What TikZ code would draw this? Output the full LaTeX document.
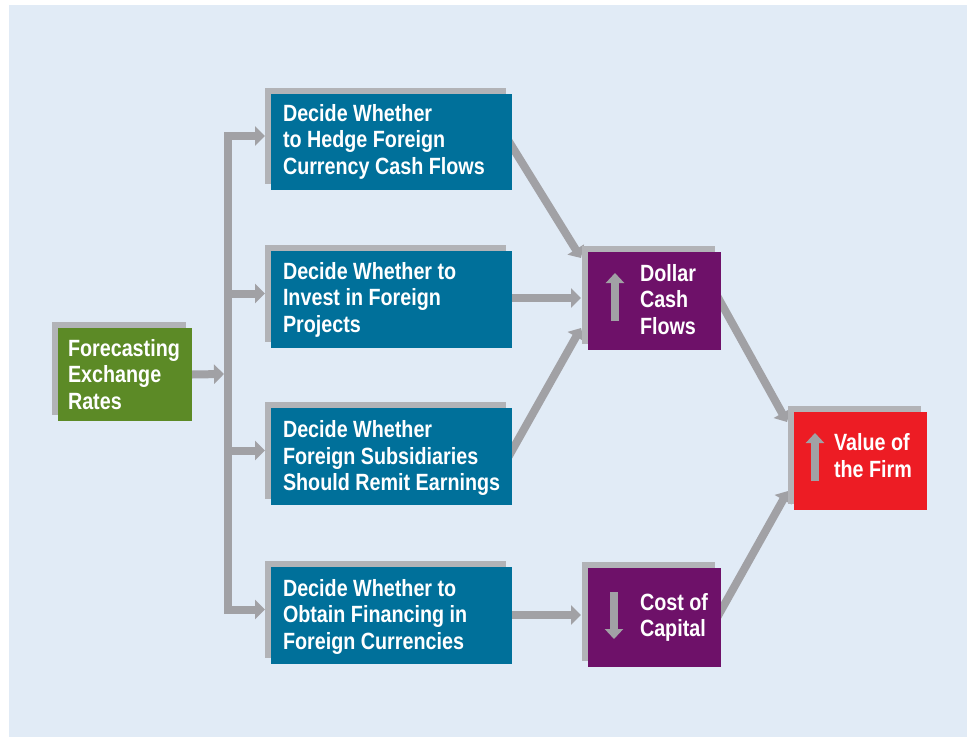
\documentclass[tikz,border=0pt]{standalone}
\usepackage{fontspec}
\setmainfont[FakeStretch=0.84]{Liberation Sans}
\usetikzlibrary{arrows.meta,shadows}
\definecolor{bgblue}{HTML}{E1EBF6}
\definecolor{boxblue}{HTML}{00709A}
\definecolor{boxgreen}{HTML}{5C8A26}
\definecolor{boxpurple}{HTML}{6E1169}
\definecolor{boxred}{HTML}{ED1C24}
\definecolor{argray}{HTML}{A1A1A5}
\definecolor{shgray}{HTML}{B2B3B7}
\pgfdeclarelayer{bglayer}
\pgfdeclarelayer{connlayer}
\pgfsetlayers{bglayer,connlayer,main}
\begin{document}
\begin{tikzpicture}[x=1pt,y=-1pt,
  box/.style={draw=none, inner sep=0pt, outer sep=0pt, anchor=north west,
    drop shadow={shadow xshift=-6pt, shadow yshift=6pt, fill=shgray, opacity=1}},
  conn/.style={draw=argray, line width=8pt, line join=miter,
    -{Triangle[length=10pt,width=19pt]}},
  icon/.style={draw=argray, line width=8pt, -{Triangle[length=10pt,width=18pt]}},
  lbl/.style={text=white, font=\bfseries\fontsize{23.5}{26.5}\selectfont,
    align=left, anchor=west, inner sep=0pt, outer sep=0pt}]
\useasboundingbox (0,0) rectangle (967,737);
\begin{pgfonlayer}{bglayer}
  \fill[white] (0,0) rectangle (967,737);
  \fill[bgblue] (9,5) rectangle (967,737);
\end{pgfonlayer}

% boxes
\node[box, fill=boxgreen, minimum width=134pt, minimum height=93pt] (g) at (58,328) {};
\node[box, fill=boxblue, minimum width=241pt, minimum height=96pt] (b1) at (271,94) {};
\node[box, fill=boxblue, minimum width=241pt, minimum height=97pt] (b2) at (271,251) {};
\node[box, fill=boxblue, minimum width=241pt, minimum height=97pt] (b3) at (271,408) {};
\node[box, fill=boxblue, minimum width=241pt, minimum height=97pt] (b4) at (271,567) {};
\node[box, fill=boxpurple, minimum width=133pt, minimum height=98pt] (d) at (588,252) {};
\node[box, fill=boxpurple, minimum width=133pt, minimum height=99pt] (c) at (588,568) {};
\node[box, fill=boxred, minimum width=133pt, minimum height=98pt] (v) at (794,412) {};

% labels
\node[lbl] (tg) at (68,374.5) {Forecasting\\Exchange\\Rates};
\node[lbl] (t1) at (283,141.5) {Decide Whether\\to Hedge Foreign\\Currency Cash Flows};
\node[lbl] (t2) at (283,299.5) {Decide Whether to\\Invest in Foreign\\Projects};
\node[lbl] (t3) at (283,458) {Decide Whether\\Foreign Subsidiaries\\Should Remit Earnings};
\node[lbl] (t4) at (283,616.5) {Decide Whether to\\Obtain Financing in\\Foreign Currencies};
\node[lbl] (td) at (640,299.5) {Dollar\\Cash\\Flows};
\node[lbl] (tc) at (640,617.5) {Cost of\\Capital};
\node[lbl] (tv) at (834,455.5) {Value of\\the Firm};

% icons
\draw[icon] ([shift={(27,69)}]d.north west) -- ([shift={(27,21)}]d.north west);
\draw[icon] ([shift={(21,69)}]v.north west) -- ([shift={(21,21)}]v.north west);
\draw[icon] ([shift={(26,24)}]c.north west) -- ([shift={(26,71)}]c.north west);

% connectors
\coordinate (trunk) at (228,374);
\begin{pgfonlayer}{connlayer}
  \draw[conn] (g.east) -- (trunk -| 224,0);
  \draw[conn] (trunk) |- ([shift={(-6,-6)}]b1.west);
  \draw[conn] (trunk) |- ([shift={(-6,-6)}]b2.west);
  \draw[conn] (trunk) |- ([shift={(-6,-6)}]b3.west);
  \draw[conn] (trunk) |- ([shift={(-6,-6)}]b4.west);
  \draw[conn, shorten <=-10pt] ([yshift=-4.5pt]b1.east) -- ([shift={(-7,6)}]d.north west);
  \draw[conn] (b2.east |- 0,298) -- ([xshift=-7pt]d.west |- 0,298);
  \draw[conn, shorten <=-10pt] ([yshift=6pt]b3.east) -- ([shift={(-7,-22)}]d.south west);
  \draw[conn] (b4.east |- 0,615) -- ([xshift=-7pt]c.west |- 0,615);
  \draw[conn, shorten <=-10pt] ([yshift=-2pt]d.east) -- ([shift={(-7,10)}]v.north west);
  \draw[conn, shorten <=-10pt] ([yshift=7pt]c.east) -- ([shift={(-6,-19)}]v.south west);
\end{pgfonlayer}
\end{tikzpicture}
\end{document}
